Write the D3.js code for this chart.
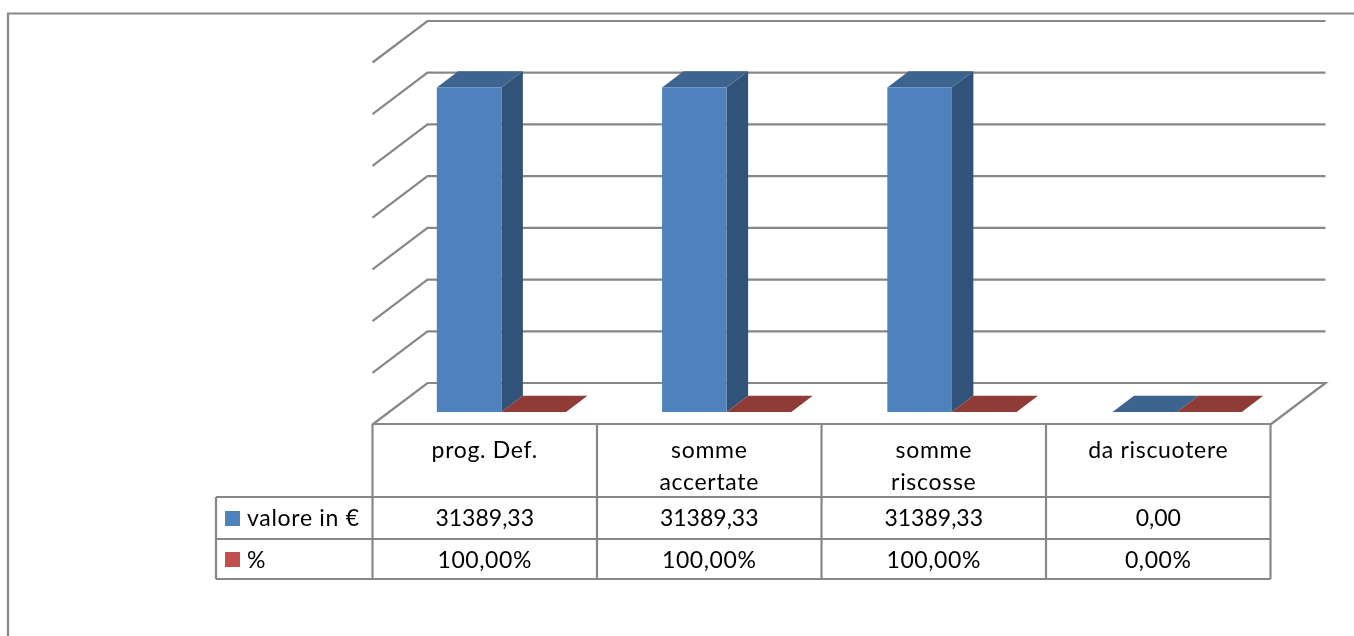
<!DOCTYPE html>
<html><head><meta charset="utf-8">
<script src="https://cdn.jsdelivr.net/npm/d3@7/dist/d3.min.js"></script>
<style>html,body{margin:0;padding:0;background:#fff;overflow:hidden}svg{display:block}text{font-family:Lato,"Open Sans",sans-serif;fill:#000}</style>
</head><body><svg id="c" width="1354" height="636"><defs><filter id="soft" filterUnits="userSpaceOnUse" x="0" y="0" width="1354" height="636"><feGaussianBlur stdDeviation="0.4"/></filter></defs></svg>
<script>
const categories = ["prog. Def.", "somme accertate", "somme riscosse", "da riscuotere"];
const categoryLines = [["prog. Def."], ["somme", "accertate"], ["somme", "riscosse"], ["da riscuotere"]];
const seriesNames = ["valore in €", "%"];
const valoreEuro = [31389.33, 31389.33, 31389.33, 0];
const percento = [1, 1, 1, 0];
const valoreLabels = ["31389,33", "31389,33", "31389,33", "0,00"];
const percentoLabels = ["100,00%", "100,00%", "100,00%", "0,00%"];
const yTicks = [0, 5000, 10000, 15000, 20000, 25000, 30000, 35000];

const svg = d3.select("#c");
const root = svg.append("g").attr("filter", "url(#soft)");
const GRID = "#878787";
const colors = [
  {legend:"#4F81BD", front:"#4F81BD", side:"#335379", top:"#3C638F"},
  {legend:"#C0504D", front:"#C0504D", side:"#7D3432", top:"#8F3A39"}
];
const x = d3.scaleBand().domain(categories).range([372.5, 1270.5]);
const xBars = d3.scaleBand().domain(categories).range([372.3, 1273.3]);
const inner = d3.scaleBand().domain(seriesNames).range([0, xBars.bandwidth()]).paddingInner(0).paddingOuter(0.743);
const y = d3.scaleLinear().domain([0, 35000]).range([383, 21]);
const DX = 55, DY = 41.5;
// depth: 0 = back wall, 1 = front of the floor
const P = (u, v, d) => [u + DX * (1 - d), y(v) + DY * d];
const poly = pts => pts.map(p => p.join(",")).join(" ");

// outer frame
root.append("path").attr("d", "M8,636V13.5H1354").attr("fill", "none").attr("stroke", GRID).attr("stroke-width", 2.2);

// gridlines
const gridG = root.append("g").attr("fill", "none").attr("stroke", GRID).attr("stroke-width", 2.2);
yTicks.forEach(t => {
  const a = P(372.5, t, 1), b = P(372.5, t, 0), c = P(1270.5, t, 0);
  const pts = [a, b, c];
  if (t === 0) pts.push(P(1270.5, t, 1));
  gridG.append("polyline").attr("points", poly(pts));
});

// bars
const dFront = 0.70, dBack = 0.31;
const series = [valoreEuro, percento];
categories.forEach((cat, i) => {
  seriesNames.forEach((s, k) => {
    const v = series[k][i], col = colors[k];
    const u0 = xBars(cat) + inner(s), u1 = u0 + inner.bandwidth();
    const g = root.append("g");
    g.append("polygon").attr("fill", col.side).attr("points", poly([P(u1,0,dFront),P(u1,0,dBack),P(u1,v,dBack),P(u1,v,dFront)]));
    g.append("polygon").attr("fill", col.top).attr("points", poly([P(u0,v,dFront),P(u1,v,dFront),P(u1,v,dBack),P(u0,v,dBack)]));
    g.append("polygon").attr("fill", col.front).attr("points", poly([P(u0,0,dFront),P(u1,0,dFront),P(u1,v,dFront),P(u0,v,dFront)]));
  });
});

// data table
const rows = [424, 497, 539, 579];
const edges = [...categories.map(c => x(c)), 1270.5];
const t = root.append("g").attr("stroke", GRID).attr("stroke-width", 2.2).attr("fill", "none");
rows.forEach((r, i) => t.append("line").attr("x1", i ? 216 : 372.5).attr("x2", 1270.5).attr("y1", r).attr("y2", r));
edges.forEach(e => t.append("line").attr("x1", e).attr("x2", e).attr("y1", 424).attr("y2", 579));
t.append("line").attr("x1", 216).attr("x2", 216).attr("y1", 497).attr("y2", 579);

const FS = 23;
const txt = (tx, ty, s, anchor, ls) => root.append("text").attr("x", tx).attr("y", ty).attr("font-size", FS).attr("letter-spacing", ls).attr("text-anchor", anchor || "middle").text(s);
categories.forEach((c, i) => {
  const cx = x(c) + x.bandwidth() / 2;
  categoryLines[i].forEach((l, j) => txt(cx, 458 + j * 32, l, "middle", 0.7));
  txt(cx, 525.5, valoreLabels[i], "middle", 0);
  txt(cx, 567.5, percentoLabels[i], "middle", 0.6);
});
seriesNames.forEach((s, k) => {
  const ry = [511, 552][k];
  root.append("rect").attr("x", 225).attr("y", ry).attr("width", 15).attr("height", 15).attr("fill", colors[k].legend);
  txt(247, [525.5, 567.5][k], s, "start", 0.7);
});
</script></body></html>
